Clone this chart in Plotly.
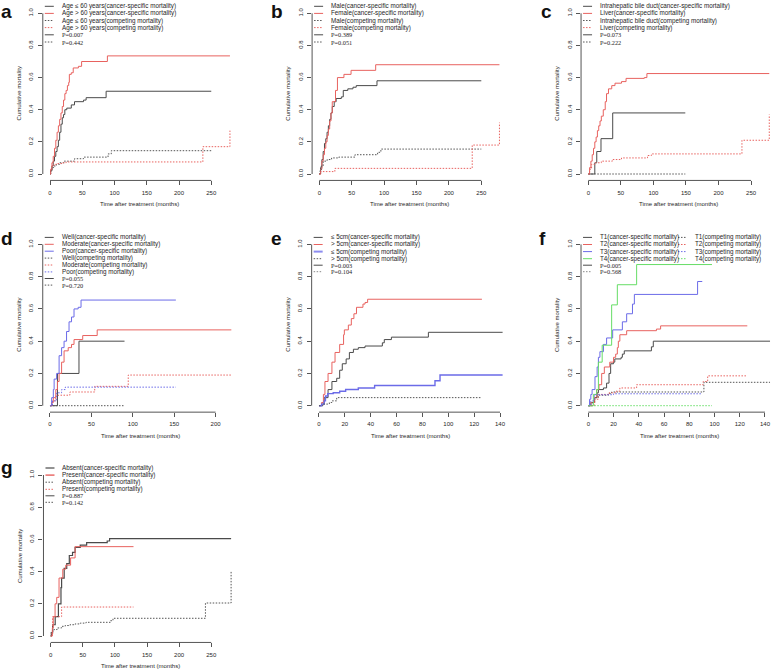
import plotly.graph_objects as go

# ===================== DATA =====================
# ---- panel a : age ----
a_labels = ["Age \u2264 60 years(cancer-specific mortality)", "Age > 60 years(cancer-specific mortality)",
            "Age \u2264 60 years(competing mortality)", "Age > 60 years(competing mortality)",
            "P=0.007", "P=0.442"]
a_le60_cs_t = [0, 1, 3, 5, 7, 9, 11, 13, 15, 17, 19, 21, 23, 26, 33, 38, 52, 56, 87, 250]
a_le60_cs_v = [0, 0.02, 0.05, 0.08, 0.11, 0.14, 0.17, 0.21, 0.26, 0.31, 0.35, 0.37, 0.40, 0.41, 0.43, 0.45, 0.46, 0.475, 0.515, 0.515]
a_gt60_cs_t = [0, 1, 3, 5, 7, 9, 11, 13, 15, 17, 19, 21, 23, 25, 27, 29, 30, 33, 36, 44, 49, 89, 279]
a_gt60_cs_v = [0, 0.03, 0.07, 0.11, 0.16, 0.21, 0.26, 0.30, 0.34, 0.38, 0.42, 0.46, 0.50, 0.52, 0.55, 0.57, 0.62, 0.63, 0.66, 0.67, 0.70, 0.735, 0.735]
a_le60_cr_t = [0, 1, 3, 6, 10, 15, 22, 38, 52, 90, 95, 250]
a_le60_cr_v = [0, 0.02, 0.04, 0.05, 0.06, 0.07, 0.08, 0.095, 0.105, 0.125, 0.145, 0.145]
a_gt60_cr_t = [0, 1, 3, 6, 10, 20, 25, 237, 279]
a_gt60_cr_v = [0, 0.03, 0.05, 0.06, 0.065, 0.07, 0.075, 0.17, 0.27]

# ---- panel b : sex ----
b_labels = ["Male(cancer-specific mortality)", "Female(cancer-specific mortality)",
            "Male(competing mortality)", "Female(competing mortality)", "P=0.389", "P=0.051"]
b_m_cs_t = [0, 2, 4, 6, 8, 10, 12, 14, 16, 18, 20, 23, 26, 34, 37, 44, 52, 57, 89, 250]
b_m_cs_v = [0, 0.04, 0.09, 0.14, 0.19, 0.22, 0.26, 0.30, 0.34, 0.38, 0.42, 0.45, 0.47, 0.48, 0.52, 0.53, 0.54, 0.55, 0.58, 0.58]
b_f_cs_t = [0, 2, 4, 6, 8, 10, 12, 14, 16, 18, 20, 25, 28, 38, 49, 87, 278]
b_f_cs_v = [0, 0.03, 0.08, 0.12, 0.16, 0.20, 0.24, 0.28, 0.33, 0.38, 0.45, 0.52, 0.60, 0.62, 0.645, 0.68, 0.68]
b_m_cr_t = [0, 1, 3, 6, 12, 19, 30, 55, 90, 95, 250]
b_m_cr_v = [0, 0.02, 0.05, 0.08, 0.09, 0.10, 0.105, 0.12, 0.135, 0.155, 0.155]
b_f_cr_t = [0, 2, 24, 236, 278]
b_f_cr_v = [0, 0.015, 0.035, 0.18, 0.32]

# ---- panel c : site ----
c_labels = ["Intrahepatic bile duct(cancer-specific mortality)", "Liver(cancer-specific mortality)",
            "Intrahepatic bile duct(competing mortality)", "Liver(competing mortality)", "P=0.073", "P=0.222"]
c_ibd_cs_t = [0, 10, 13, 19.5, 37.5, 149]
c_ibd_cs_v = [0, 0.07, 0.14, 0.22, 0.38, 0.38]
c_liv_cs_t = [0, 2, 4, 6, 8, 10, 12, 14, 16, 18, 20, 23, 26, 28, 31, 36, 41, 51, 58, 86, 90, 278]
c_liv_cs_v = [0, 0.04, 0.08, 0.12, 0.16, 0.20, 0.23, 0.27, 0.30, 0.33, 0.36, 0.40, 0.45, 0.50, 0.53, 0.55, 0.565, 0.575, 0.595, 0.60, 0.625, 0.625]
c_ibd_cr_t = [0, 149]
c_ibd_cr_v = [0, 0]
c_liv_cr_t = [0, 2, 5, 10, 20, 37, 51, 91, 97, 236, 278]
c_liv_cr_v = [0, 0.03, 0.06, 0.07, 0.08, 0.09, 0.10, 0.115, 0.125, 0.21, 0.37]

# ---- panel d : grade ----
d_labels = ["Well(cancer-specific mortality)", "Moderate(cancer-specific mortality)", "Poor(cancer-specific mortality)",
            "Well(competing mortality)", "Moderate(competing mortality)", "Poor(competing mortality)",
            "P=0.055", "P=0.720"]
d_well_cs_t = [0, 9, 35, 90]
d_well_cs_v = [0, 0.2, 0.4, 0.4]
d_mod_cs_t = [0, 2, 4, 7, 9, 11, 14, 17, 22, 26, 29, 39.5, 57, 219]
d_mod_cs_v = [0, 0.02, 0.05, 0.10, 0.15, 0.20, 0.27, 0.34, 0.36, 0.38, 0.41, 0.435, 0.47, 0.47]
d_poor_cs_t = [0, 2, 4, 5, 8, 11, 14, 17, 20, 23, 26, 29, 34, 37.5, 152]
d_poor_cs_v = [0, 0.05, 0.10, 0.165, 0.20, 0.31, 0.36, 0.40, 0.46, 0.52, 0.55, 0.60, 0.61, 0.655, 0.655]
d_well_cr_t = [0, 90]
d_well_cr_v = [0, 0]
d_mod_cr_t = [0, 3, 7, 10, 24, 54, 94.5, 219]
d_mod_cr_v = [0, 0.03, 0.06, 0.065, 0.085, 0.12, 0.19, 0.19]
d_poor_cr_t = [0, 3, 8, 14, 18.5, 152]
d_poor_cr_v = [0, 0.03, 0.08, 0.10, 0.115, 0.115]

# ---- panel e : tumor size ----
e_labels = ["\u2264 5cm(cancer-specific mortality)", "> 5cm(cancer-specific mortality)",
            "\u2264 5cm(competing mortality)", "> 5cm(competing mortality)", "P=0.003", "P=0.104"]
e_le5_cs_t = [0, 2, 4, 7, 10, 13.7, 16, 18, 21, 23.5, 26.6, 30.4, 35.6, 49, 50.5, 56, 84.6, 142]
e_le5_cs_v = [0, 0.01, 0.05, 0.10, 0.15, 0.17, 0.22, 0.26, 0.29, 0.33, 0.35, 0.36, 0.37, 0.39, 0.41, 0.425, 0.455, 0.455]
e_gt5_cs_t = [0, 2, 3.4, 4.6, 7, 10, 12.4, 16, 19, 19.6, 22.7, 25, 27, 29, 34, 35.6, 37.6, 126]
e_gt5_cs_v = [0, 0.02, 0.07, 0.15, 0.20, 0.27, 0.33, 0.38, 0.44, 0.47, 0.50, 0.54, 0.57, 0.61, 0.63, 0.64, 0.66, 0.66]
e_le5_cr_t = [0, 2, 4, 5, 6.7, 11, 16, 20.6, 30.4, 43, 89.7, 93.6, 142]
e_le5_cr_v = [0, 0.01, 0.03, 0.06, 0.075, 0.08, 0.09, 0.10, 0.11, 0.125, 0.155, 0.19, 0.19]
e_gt5_cr_t = [0, 3, 8, 10, 13.7, 126]
e_gt5_cr_v = [0, 0.01, 0.02, 0.03, 0.05, 0.05]

# ---- panel f : T stage ----
f_labels_left = ["T1(cancer-specific mortality)", "T2(cancer-specific mortality)",
                 "T3(cancer-specific mortality)", "T4(cancer-specific mortality)", "P=0.005", "P=0.568"]
f_labels_right = ["T1(competing mortality)", "T2(competing mortality)",
                  "T3(competing mortality)", "T4(competing mortality)"]
f_t1_cs_t = [0, 2, 5, 7, 8, 12, 14.5, 16.4, 17.7, 20, 21, 26, 27, 28.5, 50, 51.5, 144]
f_t1_cs_v = [0, 0.02, 0.05, 0.08, 0.10, 0.11, 0.14, 0.20, 0.26, 0.27, 0.29, 0.30, 0.32, 0.34, 0.365, 0.40, 0.40]
f_t2_cs_t = [0, 2, 5, 6.6, 8.5, 10.6, 12.7, 17, 20, 21.7, 23, 23.8, 25, 30.4, 54, 57.3, 126]
f_t2_cs_v = [0, 0.02, 0.05, 0.10, 0.13, 0.20, 0.24, 0.27, 0.30, 0.32, 0.36, 0.40, 0.44, 0.465, 0.475, 0.495, 0.495]
f_t3_cs_t = [0, 1, 2, 3, 5.3, 7, 8, 9.2, 12, 14.5, 19.3, 27, 30.4, 35, 36.5, 86.6, 90.3]
f_t3_cs_v = [0, 0.04, 0.07, 0.10, 0.18, 0.24, 0.30, 0.335, 0.38, 0.42, 0.47, 0.52, 0.57, 0.63, 0.69, 0.77, 0.77]
f_t4_cs_t = [0, 4, 6.6, 8, 11, 18.5, 23, 38.3, 98]
f_t4_cs_v = [0, 0.07, 0.10, 0.27, 0.375, 0.625, 0.75, 0.875, 0.875]
f_t1_cr_t = [0, 3, 5, 8, 16, 18.5, 91.6, 144]
f_t1_cr_v = [0, 0.02, 0.05, 0.065, 0.075, 0.085, 0.145, 0.145]
f_t2_cr_t = [0, 5, 8, 16.4, 22, 25, 38.3, 91, 94.6, 126]
f_t2_cr_v = [0, 0.04, 0.07, 0.08, 0.09, 0.11, 0.13, 0.15, 0.185, 0.185]
f_t3_cr_t = [0, 2, 4.8, 20, 90.3]
f_t3_cr_v = [0, 0.03, 0.068, 0.074, 0.074]
f_t4_cr_t = [0, 98]
f_t4_cr_v = [0, 0]

# ---- panel g : presence ----
g_labels = ["Absent(cancer-specific mortality)", "Present(cancer-specific mortality)",
            "Absent(competing mortality)", "Present(competing mortality)", "P=0.887", "P=0.142"]
g_abs_cs_t = [0, 1, 3, 7, 12, 16, 17, 21, 25, 29, 34, 38, 46, 56, 88, 91.7, 281]
g_abs_cs_v = [0, 0.02, 0.07, 0.12, 0.20, 0.30, 0.36, 0.42, 0.45, 0.50, 0.52, 0.55, 0.565, 0.58, 0.59, 0.605, 0.605]
g_pre_cs_t = [0, 2.6, 4, 6.8, 9.4, 13, 18.8, 23.4, 31, 38, 129]
g_pre_cs_v = [0, 0.05, 0.12, 0.20, 0.24, 0.36, 0.415, 0.44, 0.485, 0.555, 0.555]
g_abs_cr_t = [0, 1, 5, 10, 17, 22.4, 30, 38, 46, 55, 92.7, 97, 241, 281]
g_abs_cr_v = [0, 0.03, 0.04, 0.05, 0.06, 0.065, 0.07, 0.075, 0.08, 0.085, 0.095, 0.11, 0.205, 0.40]
g_pre_cr_t = [0, 2, 3, 17, 129]
g_pre_cr_v = [0, 0.02, 0.12, 0.18, 0.18]

y_ticks = [0, 0.2, 0.4, 0.6, 0.8, 1.0]
y_ticktext = ["0.0", "0.2", "0.4", "0.6", "0.8", "1.0"]
x_ticks_long = [0, 50, 100, 150, 200, 250]
x_ticks_d = [0, 50, 100, 150, 200]
x_ticks_short = [0, 20, 40, 60, 80, 100, 120, 140]
x_title = "Time after treatment (months)"
y_title = "Cumulative mortality"

# ===================== STYLE / LAYOUT =====================
W, H = 778, 671
BLACK = "#4a4a4a"
DOTC = "#555555"
RED = "#e8625f"
BLUE = "#6b6be8"
GREEN = "#66dd66"
TXT = "#262626"
AX = "#555555"
SANS = "Liberation Sans"
SERIF = "Liberation Serif"
LEG_FS = 6.3

S, D = "solid", "1.5px,1.5px"

panels = [
    dict(letter="a", lx=0, lb=15, x0=50, sx=0.645, y0=174, sy=160.7, xmax=279, xt=x_ticks_long, step=7.1, pstep=7.2,
         series=[(a_le60_cs_t, a_le60_cs_v, BLACK, S, 1), (a_gt60_cs_t, a_gt60_cs_v, RED, S, 1),
                 (a_le60_cr_t, a_le60_cr_v, DOTC, D, 1), (a_gt60_cr_t, a_gt60_cr_v, RED, D, 1)],
         legend=[(a_labels, [(BLACK, S, 1), (RED, S, 1), (DOTC, D, 1), (RED, D, 1), (BLACK, S, 1), (DOTC, D, 1)], 0)]),
    dict(letter="b", lx=270, lb=15, x0=319.3, sx=0.648, y0=174, sy=160.7, xmax=278, xt=x_ticks_long, step=7.1, pstep=7.2,
         series=[(b_m_cs_t, b_m_cs_v, BLACK, S, 1), (b_f_cs_t, b_f_cs_v, RED, S, 1),
                 (b_m_cr_t, b_m_cr_v, DOTC, D, 1), (b_f_cr_t, b_f_cr_v, RED, D, 1)],
         legend=[(b_labels, [(BLACK, S, 1), (RED, S, 1), (DOTC, D, 1), (RED, D, 1), (BLACK, S, 1), (DOTC, D, 1)], 0)]),
    dict(letter="c", lx=540, lb=15, x0=588.3, sx=0.651, y0=174, sy=160.7, xmax=278, xt=x_ticks_long, step=7.1, pstep=7.2,
         series=[(c_ibd_cs_t, c_ibd_cs_v, BLACK, S, 1), (c_liv_cs_t, c_liv_cs_v, RED, S, 1),
                 (c_ibd_cr_t, c_ibd_cr_v, DOTC, D, 1), (c_liv_cr_t, c_liv_cr_v, RED, D, 1)],
         legend=[(c_labels, [(BLACK, S, 1), (RED, S, 1), (DOTC, D, 1), (RED, D, 1), (BLACK, S, 1), (DOTC, D, 1)], 0)]),
    dict(letter="d", lx=0, lb=243, x0=50, sx=0.828, y0=405.7, sy=161.3, xmax=219, xt=x_ticks_d, step=6.9, pstep=6.6,
         series=[(d_well_cs_t, d_well_cs_v, BLACK, S, 1), (d_mod_cs_t, d_mod_cs_v, RED, S, 1),
                 (d_poor_cs_t, d_poor_cs_v, BLUE, S, 1), (d_well_cr_t, d_well_cr_v, DOTC, D, 1),
                 (d_mod_cr_t, d_mod_cr_v, RED, D, 1), (d_poor_cr_t, d_poor_cr_v, BLUE, D, 1)],
         legend=[(d_labels, [(BLACK, S, 1), (RED, S, 1), (BLUE, S, 1), (DOTC, D, 1), (RED, D, 1), (BLUE, D, 1),
                             (BLACK, S, 1), (DOTC, D, 1)], 0)]),
    dict(letter="e", lx=270, lb=243, x0=319, sx=1.293, y0=405.7, sy=161.3, xmax=142, xt=x_ticks_short, step=7.1, pstep=6.5,
         series=[(e_le5_cs_t, e_le5_cs_v, BLACK, S, 1), (e_gt5_cs_t, e_gt5_cs_v, RED, S, 1),
                 (e_le5_cr_t, e_le5_cr_v, BLUE, S, 1.4), (e_gt5_cr_t, e_gt5_cr_v, DOTC, D, 1)],
         legend=[(e_labels, [(BLACK, S, 1), (RED, S, 1), ("#8c8cf0", S, 2), (DOTC, D, 1), (BLACK, S, 1), ("#888888", D, 1)], 0)]),
    dict(letter="f", lx=538, lb=243, x0=588.3, sx=1.262, y0=405.7, sy=161.3, xmax=144, xt=x_ticks_short, step=7.1, pstep=6.5,
         series=[(f_t1_cs_t, f_t1_cs_v, BLACK, S, 1), (f_t2_cs_t, f_t2_cs_v, RED, S, 1),
                 (f_t3_cs_t, f_t3_cs_v, BLUE, S, 1), (f_t4_cs_t, f_t4_cs_v, GREEN, S, 1),
                 (f_t1_cr_t, f_t1_cr_v, DOTC, D, 1), (f_t2_cr_t, f_t2_cr_v, RED, D, 1),
                 (f_t3_cr_t, f_t3_cr_v, BLUE, D, 1), (f_t4_cr_t, f_t4_cr_v, GREEN, D, 1)],
         legend=[(f_labels_left, [(BLACK, S, 1), (RED, S, 1), (BLUE, S, 1), (GREEN, S, 1), (BLACK, S, 1), ("#888888", D, 1)], 0),
                 (f_labels_right, [(DOTC, D, 1), (RED, D, 1), (BLUE, D, 1), (GREEN, D, 1)], 95)]),
    dict(letter="g", lx=0, lb=472, x0=50.7, sx=0.642, y0=636, sy=161, xmax=281, xt=x_ticks_long, step=7.1, pstep=6.5,
         series=[(g_abs_cs_t, g_abs_cs_v, BLACK, S, 1.2), (g_pre_cs_t, g_pre_cs_v, RED, S, 1),
                 (g_abs_cr_t, g_abs_cr_v, DOTC, D, 1), (g_pre_cr_t, g_pre_cr_v, RED, D, 1)],
         legend=[(g_labels, [("#777777", S, 1.6), (RED, S, 1.4), (DOTC, D, 1), (RED, D, 1), (BLACK, S, 1), (DOTC, D, 1)], 0)]),
]

fig = go.Figure()
shapes, annotations = [], []


def fx(px):
    return min(max(px / W, 0.0), 1.0)


def fy(py):
    return min(max(1 - py / H, 0.0), 1.0)


for i, p in enumerate(panels, start=1):
    xn = "x" if i == 1 else f"x{i}"
    yn = "y" if i == 1 else f"y{i}"
    xmin = -0.04 * p["xmax"]
    left_px = p["x0"] + xmin * p["sx"]
    right_px = min(p["x0"] + 1.04 * p["xmax"] * p["sx"], W - 0.5)
    xmax = (right_px - p["x0"]) / p["sx"]
    bot_px = p["y0"] + 0.04 * p["sy"]
    top_px = p["y0"] - 1.04 * p["sy"]
    one_px = p["y0"] - p["sy"]

    fig.layout[xn.replace("x", "xaxis")] = dict(
        domain=[fx(left_px), fx(right_px)], range=[xmin, xmax], anchor=yn,
        tickvals=p["xt"], ticktext=[str(v) for v in p["xt"]],
        ticks="outside", ticklen=4, tickwidth=1, tickcolor=AX,
        showgrid=False, zeroline=False, showline=False, ticklabelstandoff=2,
        tickfont=dict(size=6, color=TXT, family=SANS))
    fig.layout[yn.replace("y", "yaxis")] = dict(
        domain=[fy(bot_px), fy(top_px)], range=[-0.04, 1.04], anchor=xn,
        tickvals=y_ticks, ticktext=y_ticktext, tickangle=-90,
        ticks="outside", ticklen=4, tickwidth=1, tickcolor=AX,
        showgrid=False, zeroline=False, showline=False, ticklabelstandoff=2,
        tickfont=dict(size=6, color=TXT, family=SANS))

    # axis lines (R style: from first to last tick)
    shapes.append(dict(type="line", xref=xn, yref=f"{yn} domain", x0=p["xt"][0], x1=p["xt"][-1],
                       y0=0, y1=0, line=dict(color=AX, width=1)))
    shapes.append(dict(type="line", xref=f"{xn} domain", yref=yn, x0=0, x1=0,
                       y0=y_ticks[0], y1=y_ticks[-1], line=dict(color=AX, width=1)))

    for t, v, col, dash, w in p["series"]:
        fig.add_trace(go.Scatter(x=t, y=v, mode="lines", xaxis=xn, yaxis=yn, showlegend=False,
                                 hoverinfo="skip",
                                 line=dict(color=col, width=w, dash=dash, shape="hv")))

    # axis titles
    annotations.append(dict(text=x_title, xref="paper", yref="paper", x=fx((left_px + right_px) / 2),
                            y=fy(bot_px + 24), xanchor="center", yanchor="middle", showarrow=False,
                            font=dict(size=6, color=TXT, family=SANS)))
    annotations.append(dict(text=y_title, xref="paper", yref="paper", x=fx(left_px - 24),
                            y=fy((bot_px + top_px) / 2), xanchor="center", yanchor="middle",
                            textangle=-90, showarrow=False, font=dict(size=6, color=TXT, family=SANS)))
    # panel letter
    letter_top = max(p["lb"] - 16, 0)
    annotations.append(dict(text=f"<b>{p['letter']}</b>", xref="paper", yref="paper", x=fx(p["lx"]),
                            y=fy(letter_top), xanchor="left", yanchor="top", showarrow=False, borderpad=0,
                            font=dict(size=19, color="#111111", family=SANS)))

    # legend (R style)
    for labels, styles, dx in p["legend"]:
        ry = one_px - 7
        for k, (lab, (col, dash, w)) in enumerate(zip(labels, styles)):
            is_p = lab.startswith("P=")
            if k > 0:
                ry += p["pstep"] if is_p else p["step"]
            lx0 = left_px + 2 + dx
            shapes.append(dict(type="line", xref="paper", yref="paper", x0=fx(lx0), x1=fx(lx0 + 9),
                               y0=fy(ry), y1=fy(ry), line=dict(color=col, width=w, dash=dash)))
            annotations.append(dict(text=lab, xref="paper", yref="paper", x=fx(lx0 + 15), y=fy(ry),
                                    xanchor="left", yanchor="middle", showarrow=False,
                                    font=dict(size=LEG_FS, color=TXT, family=SERIF if is_p else SANS)))

fig.update_layout(width=W, height=H, margin=dict(l=0, r=0, t=0, b=0),
                  paper_bgcolor="white", plot_bgcolor="white", showlegend=False,
                  shapes=shapes, annotations=annotations)

fig.write_html("out.html", config={"displayModeBar": False, "staticPlot": True},
               post_script="document.body.style.margin='0';document.body.style.padding='0';")
